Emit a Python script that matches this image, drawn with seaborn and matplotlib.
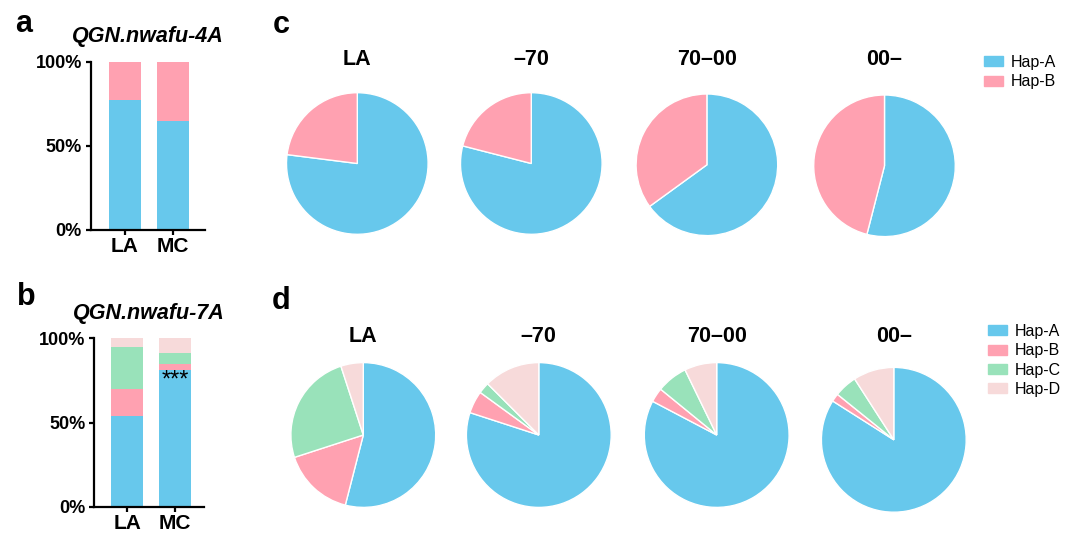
import matplotlib
matplotlib.use("Agg")
import numpy as np
import pandas as pd
import seaborn as sns
from matplotlib import pyplot as plt
from matplotlib.patches import Patch

# ---- data ----
bar_groups = ["LA", "MC"]
haps = ["Hap-A", "Hap-B", "Hap-C", "Hap-D"]

qgn4a_hap_a = [77, 65]
qgn4a_hap_b = [23, 35]

qgn7a_hap_a = [54, 81]
qgn7a_hap_b = [16, 4]
qgn7a_hap_c = [25, 6.5]
qgn7a_hap_d = [5, 8.5]

pie_groups = ["LA", "\u201370", "70\u201300", "00\u2013"]
pie4a_hap_a = [77, 79, 65, 54]
pie4a_hap_b = [23, 21, 35, 46]

pie7a_hap_a = [54, 80, 82.7, 84]
pie7a_hap_b = [16, 5, 3.2, 1.8]
pie7a_hap_c = [25, 2.5, 6.9, 5.1]
pie7a_hap_d = [5, 12.5, 7.2, 9.1]

ytick_vals = [0, 50, 100]
ytick_labels = ["0%", "50%", "100%"]

colors = ["#67C8EC", "#FFA1B1", "#99E2BA", "#F7DADA"]

W, H = 1067, 533


def box(x0, y0, x1, y1):
    # pixel box -> figure fraction
    return [x0 / W, 1 - y1 / H, (x1 - x0) / W, (y1 - y0) / H]


def stacked_bar(ax, layers, title, xlim):
    cum = np.cumsum(np.array(layers), axis=0)
    # draw from the top layer down so each lower layer covers the previous one
    for i in range(len(layers) - 1, -1, -1):
        sns.barplot(x=bar_groups, y=cum[i], color=colors[i], width=0.67,
                    saturation=1, linewidth=0, ax=ax)
    ax.set_ylim(0, 100)
    ax.set_xlim(*xlim)
    ax.set_yticks(ytick_vals)
    ax.set_yticklabels(ytick_labels)
    ax.set_xlabel("")
    ax.set_ylabel("")
    for s in ["top", "right"]:
        ax.spines[s].set_visible(False)
    for s in ["left", "bottom"]:
        ax.spines[s].set_linewidth(1.6)
        ax.spines[s].set_color("black")
    ax.tick_params(axis="both", length=3.8, width=1.6, color="black",
                   labelcolor="black", pad=2.5)
    ax.tick_params(axis="y", labelsize=13)
    ax.tick_params(axis="x", labelsize=15, pad=1.5)
    for lab in ax.get_xticklabels() + ax.get_yticklabels():
        lab.set_fontweight("bold")
    ax.set_title(title, fontsize=15.5, fontweight="bold", style="italic",
                 pad=14, color="black")


def pie_row(fig, centers, r, layers, title_y):
    for j, (cx, cy) in enumerate(centers):
        ax = fig.add_axes(box(cx - r, cy - r, cx + r, cy + r))
        vals = [layer[j] for layer in layers]
        ax.pie(vals, colors=colors[:len(vals)], startangle=90,
               counterclock=False,
               wedgeprops={"edgecolor": "white", "linewidth": 1})
        ax.set_xlim(-1.0, 1.0)
        ax.set_ylim(-1.0, 1.0)
        fig.text(cx / W, 1 - title_y[j] / H, pie_groups[j], ha="center",
                 va="center", fontsize=15.5, fontweight="bold", color="black")


sns.set_theme(style="ticks")
plt.rcParams["font.family"] = ["Liberation Sans", "DejaVu Sans"]
plt.rcParams["text.color"] = "black"

fig = plt.figure(figsize=(W / 100, H / 100), dpi=100)

ax_a = fig.add_axes(box(90.7, 61.7, 205, 230))
stacked_bar(ax_a, [qgn4a_hap_a, qgn4a_hap_b], "QGN.nwafu-4A", (-0.715, 1.667))

ax_b = fig.add_axes(box(94.3, 338.3, 204, 506.7))
stacked_bar(ax_b, [qgn7a_hap_a, qgn7a_hap_b, qgn7a_hap_c, qgn7a_hap_d],
            "QGN.nwafu-7A", (-0.69, 1.6))
ax_b.text(1, 75, "***", ha="center", va="center", fontsize=17, color="black")

pie_row(fig, [(357.3, 163.5), (531.3, 163.5), (706.9, 164.8), (884.5, 165.8)],
        70.8, [pie4a_hap_a, pie4a_hap_b], [59.5, 59.5, 59.5, 59.5])
pie_row(fig, [(363.3, 435), (538.8, 435), (716.7, 435), (893.8, 439.8)],
        72.4, [pie7a_hap_a, pie7a_hap_b, pie7a_hap_c, pie7a_hap_d],
        [336, 336, 336, 336])

leg_kw = dict(loc="upper left", frameon=False, fontsize=11.5, handlelength=1.2,
              handleheight=0.6, labelspacing=0.27, handletextpad=0.45,
              borderaxespad=0, borderpad=0, labelcolor="black")
fig.legend(handles=[Patch(color=colors[i], label=haps[i]) for i in range(2)],
           bbox_to_anchor=(984 / W, 1 - 55 / H), **leg_kw)
fig.legend(handles=[Patch(color=colors[i], label=haps[i]) for i in range(4)],
           bbox_to_anchor=(988 / W, 1 - 324 / H), **leg_kw)

for lab, (x, y) in zip(["a", "b", "c", "d"],
                       [(15, 32), (17, 305), (273, 33), (272, 309)]):
    fig.text(x / W, 1 - y / H, lab, ha="left", va="baseline", fontsize=22,
             fontweight="bold", color="black")

fig.savefig("out.png", dpi=100)
